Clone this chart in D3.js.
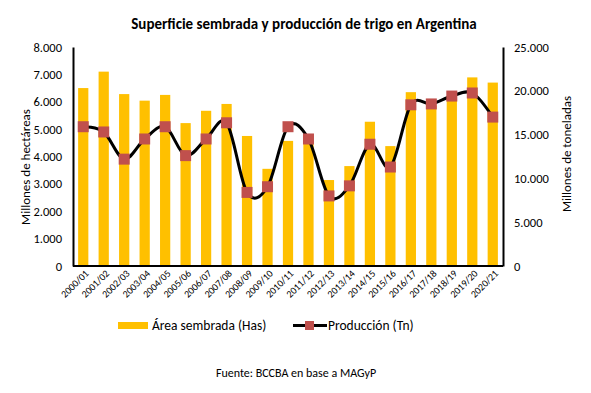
<!DOCTYPE html>
<html>
<head>
<meta charset="utf-8">
<script src="https://cdn.jsdelivr.net/npm/d3@7"></script>
<style>
  body { margin: 0; background: #fff; }
  text { font-family: Carlito, Calibri, Lato, sans-serif; fill: #000; }
</style>
</head>
<body>
<svg id="chart" width="591" height="393"></svg>
<script>
var campaigns = ['2000/01','2001/02','2002/03','2003/04','2004/05','2005/06','2006/07','2007/08','2008/09','2009/10',
	'2010/11','2011/12','2012/13','2013/14','2014/15','2015/16','2016/17','2017/18','2018/19','2019/20','2020/21'];
var area_sown = [6500, 7100, 6280, 6040, 6250, 5220, 5670, 5920, 4750, 3550,
	4570, 4600, 3140, 3650, 5270, 4380, 6350, 5850, 6200, 6890, 6700];
var production = [15900, 15300, 12200, 14500, 15900, 12600, 14500, 16350, 8400, 9050,
	15900, 14500, 8000, 9150, 13900, 11300, 18400, 18500, 19400, 19750, 17000];
var left_ticks = [0, 1000, 2000, 3000, 4000, 5000, 6000, 7000, 8000];
var right_ticks = [0, 5000, 10000, 15000, 20000, 25000];

var svg = d3.select('#chart');
var margin = {left: 73, right: 88, top: 47, bottom: 127};
var width = +svg.attr('width'), height = +svg.attr('height');
var fmt = d3.format(',');
var num = d => fmt(d).replace(/,/g, '.');

var x = d3.scaleBand().domain(campaigns).range([margin.left, width - margin.right]).paddingInner(0.5).paddingOuter(0.25);
var y_left = d3.scaleLinear().domain([0, 8000]).range([height - margin.bottom, margin.top]);
var y_right = d3.scaleLinear().domain([0, 25000]).range([height - margin.bottom, margin.top]);

// bars
svg.selectAll('rect.bar').data(area_sown).enter().append('rect')
	.attr('class', 'bar')
	.attr('x', (d, i) => x(campaigns[i]))
	.attr('width', x.bandwidth())
	.attr('y', d => y_left(d))
	.attr('height', d => y_left(0) - y_left(d))
	.attr('fill', '#FFC000');

// production line, Excel-style smoothing
var line = d3.line()
	.x((d, i) => x(campaigns[i]) + x.bandwidth() / 2)
	.y(d => y_right(d))
	.curve(d3.curveCardinal.tension(0));

svg.append('path').datum(production)
	.attr('d', line)
	.attr('fill', 'none')
	.attr('stroke', '#000')
	.attr('stroke-width', 3);

svg.selectAll('rect.mark').data(production).enter().append('rect')
	.attr('class', 'mark')
	.attr('x', (d, i) => x(campaigns[i]) + x.bandwidth() / 2 - 5.5)
	.attr('y', d => y_right(d) - 5.5)
	.attr('width', 11)
	.attr('height', 11)
	.attr('fill', '#C0504D');

// axes
var left_axis = svg.append('g')
	.attr('transform', 'translate(' + margin.left + ',0)')
	.call(d3.axisLeft(y_left).tickValues(left_ticks).tickFormat(num).tickSize(0).tickPadding(11));
var right_axis = svg.append('g')
	.attr('transform', 'translate(' + (width - margin.right) + ',0)')
	.call(d3.axisRight(y_right).tickValues(right_ticks).tickFormat(num).tickSize(0).tickPadding(11));
var bottom_axis = svg.append('g')
	.attr('transform', 'translate(0,' + (height - margin.bottom) + ')')
	.call(d3.axisBottom(x).tickSize(0).tickPadding(0));

[left_axis, right_axis, bottom_axis].forEach(function(g) {
	g.select('.domain').attr('stroke', '#000').attr('stroke-width', 2);
	g.selectAll('text').attr('font-size', 12.5).attr('font-family', 'Carlito, Calibri, Lato, sans-serif');
});
bottom_axis.select('.domain').attr('d', 'M' + margin.left + ',0H' + (width - margin.right));

bottom_axis.selectAll('text')
	.attr('font-size', 10)
	.attr('text-anchor', 'end')
	.attr('dy', '0.3em')
	.attr('transform', 'translate(4,6) rotate(-45)');

// titles
svg.append('text')
	.attr('x', 304).attr('y', 29)
	.attr('text-anchor', 'middle')
	.attr('font-size', 15).attr('font-weight', 'bold')
	.text('Superficie sembrada y producción de trigo en Argentina');

svg.append('text')
	.attr('transform', 'translate(30,167) rotate(-90)')
	.attr('text-anchor', 'middle')
	.attr('font-size', 13)
	.text('Millones de hectáreas');

svg.append('text')
	.attr('transform', 'translate(571,154) rotate(-90)')
	.attr('text-anchor', 'middle')
	.attr('font-size', 13)
	.text('Millones de toneladas');

// legend
var legend = svg.append('g');
legend.append('rect').attr('x', 118).attr('y', 322).attr('width', 30).attr('height', 7).attr('fill', '#FFC000');
legend.append('text').attr('x', 152).attr('y', 330).attr('font-size', 13.5).text('Área sembrada (Has)');
legend.append('line').attr('x1', 293).attr('x2', 327).attr('y1', 325.5).attr('y2', 325.5)
	.attr('stroke', '#000').attr('stroke-width', 3);
legend.append('rect').attr('x', 305).attr('y', 321).attr('width', 9).attr('height', 9).attr('fill', '#C0504D');
legend.append('text').attr('x', 328).attr('y', 330).attr('font-size', 13.5).text('Producción (Tn)');

svg.append('text')
	.attr('x', 296).attr('y', 377)
	.attr('text-anchor', 'middle')
	.attr('font-size', 12)
	.text('Fuente: BCCBA en base a MAGyP');
</script>
</body>
</html>
